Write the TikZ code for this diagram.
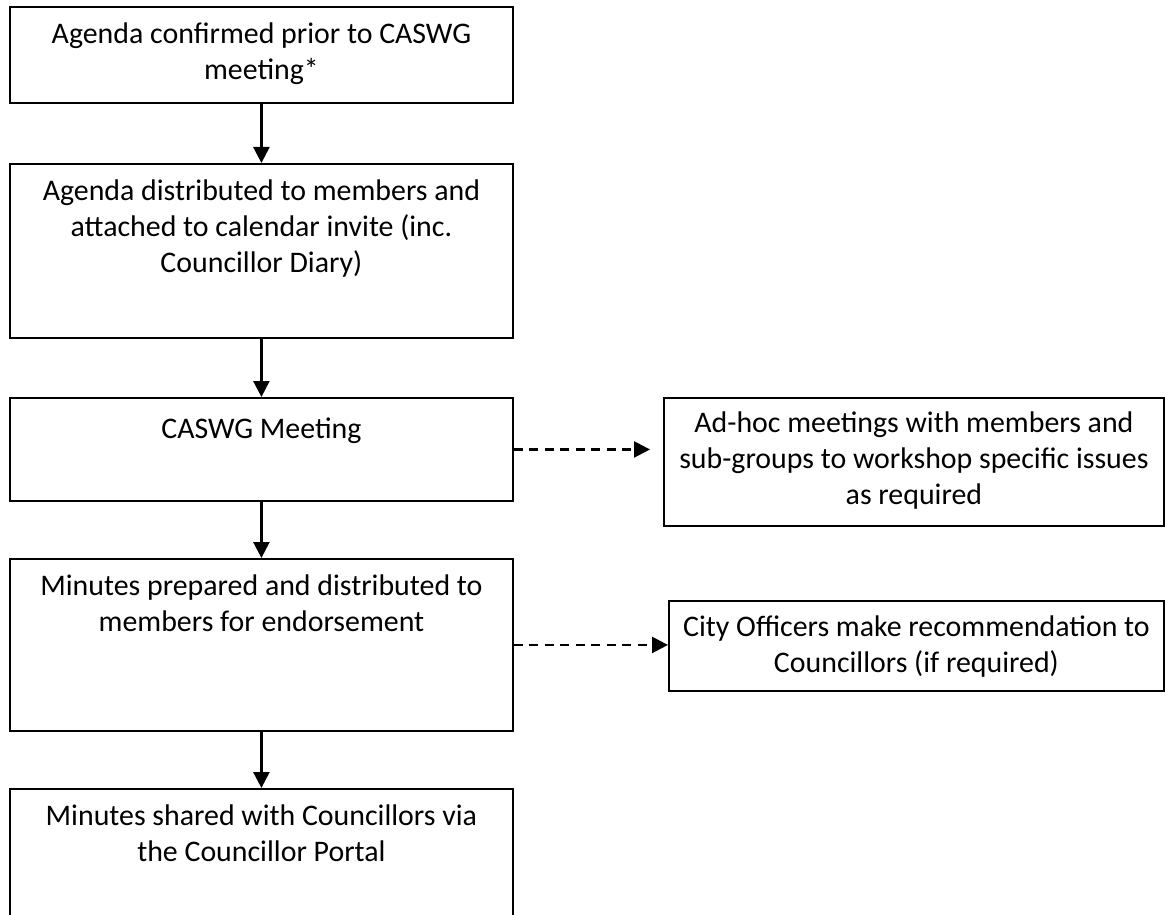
\documentclass[tikz,border=0pt]{standalone}
\usepackage{fontspec}
\setmainfont{Carlito}
\usetikzlibrary{arrows.meta,positioning}

\tikzset{
  flow/.style={line width=1.4pt,-{Triangle[length=0.32cm,width=0.32cm]}},
  dashflow/.style={flow,dash pattern=on 0.18cm off 0.13cm},
}

\begin{document}
\begin{tikzpicture}[x=0.02cm,y=-0.02cm]
  \useasboundingbox (0,0) rectangle (1166,915);
  \clip (0,0) rectangle (1166,915);

      % Boxes
      \begin{scope}[every node/.style={draw,line width=1.1pt,anchor=north west,inner sep=0pt}]
        \node[minimum width=10.06cm,minimum height=1.92cm] (confirm) at (9,6) {};
        \node[minimum width=10.06cm,minimum height=3.48cm] (distrib) at (9,163) {};
        \node[minimum width=10.06cm,minimum height=2.06cm] (meeting) at (9,397) {};
        \node[minimum width=10.06cm,minimum height=3.44cm] (minutes) at (9,558) {};
        \node[minimum width=10.06cm,minimum height=3.44cm] (portal) at (9,788) {};

        \node[minimum width=10cm,minimum height=2.56cm] (adhoc) at (663,397) {};
        \node[minimum width=9.9cm,minimum height=1.8cm] (officers) at (668,600) {};
      \end{scope}

      % Texts
      \begin{scope}[every node/.style={align=center,inner sep=0pt,execute at begin node=\strut,font=\fontsize{17}{20.5}\selectfont}]
        \node[below=0.32cm of confirm.north] (confirmtext) {Agenda confirmed prior to CASWG\\meeting*};
        \node[below=0.32cm of distrib.north] (distribtext) {Agenda distributed to members and\\attached to calendar invite (inc.\\Councillor Diary)};
        \node[below=0.32cm of meeting.north] (meetingtext) {CASWG Meeting};
        \node[below=0.32cm of minutes.north] (minutestext) {Minutes prepared and distributed to\\members for endorsement};
        \node[below=0.32cm of portal.north] (portaltext) {Minutes shared with Councillors via\\the Councillor Portal};

        \node[below=0.28cm of adhoc.north] (adhoctext) {Ad-hoc meetings with members and\\sub-groups to workshop specific issues\\as required};
        \node[below=0.3cm of officers.north] (officerstext) {City Officers make recommendation to\\Councillors (if required)};
      \end{scope}

      % Arrows
      \draw[flow] (confirm) -- (distrib);
      \draw[flow] (distrib) -- (meeting);
      \draw[flow] (meeting) -- (minutes);
      \draw[flow] (minutes) -- (portal);

      \draw[dashflow,shorten >=0.26cm] (meeting.east) -- (meeting.east -| adhoc.west);
      \draw[dashflow] (minutes.east) -- (minutes.east -| officers.west);

\end{tikzpicture}
\end{document}
